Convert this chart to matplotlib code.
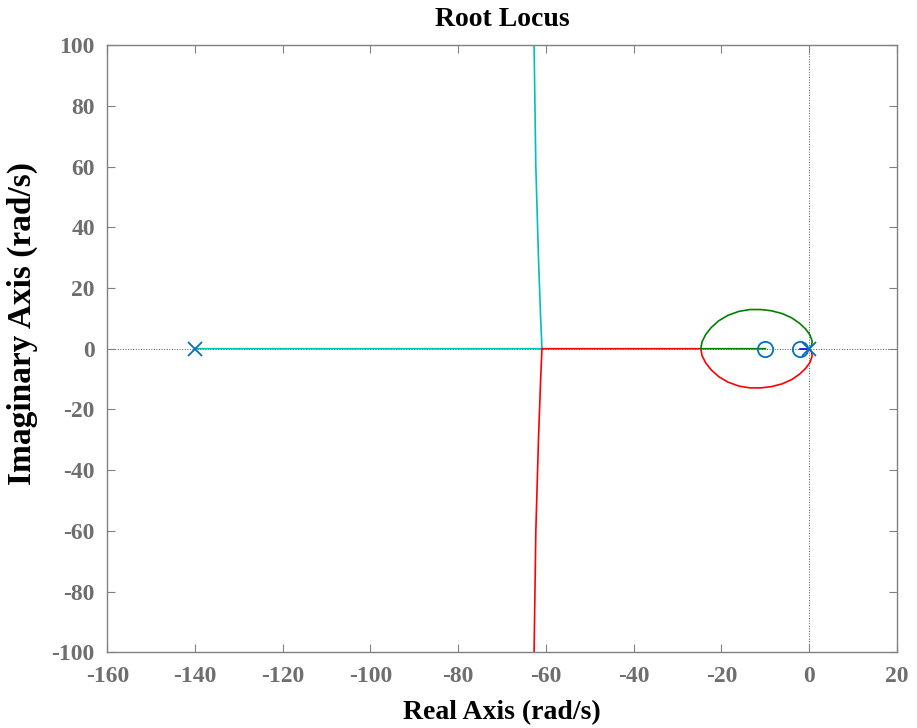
import numpy as np
import matplotlib.pyplot as plt

plt.rcParams['font.family'] = ['Liberation Serif', 'DejaVu Serif']
plt.rcParams['font.weight'] = 'bold'
plt.rcParams['axes.unicode_minus'] = False

# poles / zeros
poles_re = [-140, 0]
poles_im = [0, 0]
zeros_re = [-10, -2]
zeros_im = [0, 0]

# branch 1 (blue): origin -> zero at -2
b1_re = [0, -2]
b1_im = [0, 0]

# branch 2 (green): origin -> upper arc -> break-in -> zero at -10
b2_re = [0, 0.6, 0.7, 0.2, -0.8, -2.2, -4.0, -6.2, -8.6, -11.0, -13.5, -16.0,
         -18.5, -20.6, -22.3, -23.6, -24.4, -24.7, -10]
b2_im = [0, 1.2, 2.5, 4.5, 6.5, 8.4, 10.2, 11.6, 12.5, 12.9, 12.9, 12.3,
         11.0, 9.2, 7.0, 4.6, 2.3, 0, 0]

# branch 3 (red): origin -> lower arc -> break-in -> breakaway -> down
b3_re = [0, 0.6, 0.7, 0.2, -0.8, -2.2, -4.0, -6.2, -8.6, -11.0, -13.5, -16.0,
         -18.5, -20.6, -22.3, -23.6, -24.4, -24.7, -60.9, -61.2, -61.7, -62.3, -62.7]
b3_im = [0, -1.2, -2.5, -4.5, -6.5, -8.4, -10.2, -11.6, -12.5, -12.9, -12.9, -12.3,
         -11.0, -9.2, -7.0, -4.6, -2.3, 0, 0, -10, -30, -60, -100]

# branch 4 (cyan): pole at -140 -> breakaway -> up
b4_re = [-140, -60.9, -61.2, -61.7, -62.3, -62.7]
b4_im = [0, 0, 10, 30, 60, 100]

fig, ax = plt.subplots(figsize=(9.17, 7.28), dpi=100)
fig.subplots_adjust(left=0.117, right=0.978, top=0.938, bottom=0.104)

ax.axhline(0, color='#555555', ls=':', lw=0.7, zorder=1)
ax.axvline(0, color='#555555', ls=':', lw=0.7, zorder=1)

lw = 1.2
ax.plot(b4_re, b4_im, color='#00BFBF', lw=lw, zorder=2)
ax.plot(b3_re, b3_im, color='#FF0000', lw=lw, zorder=2)
ax.plot(b2_re, b2_im, color='#008000', lw=lw, zorder=2)
ax.plot(b1_re, b1_im, color='#0000FF', lw=lw, zorder=3)

ax.plot(poles_re, poles_im, 'x', color='#0072BD', ms=10, mew=1.3, zorder=4)
ax.plot(zeros_re, zeros_im, 'o', mfc='none', mec='#0072BD', ms=11, mew=1.3, zorder=4)

ax.set_xlim(-160, 20)
ax.set_ylim(-100, 100)
ax.set_xticks(np.arange(-160, 21, 20))
ax.set_yticks(np.arange(-100, 101, 20))

ax.tick_params(direction='in', length=6, width=0.8, top=True, right=True,
               colors='#808080', labelcolor='#6e6e6e', labelsize=17)
ax.tick_params(axis='x', pad=10)
ax.tick_params(axis='y', pad=9)
for lab in ax.get_xticklabels() + ax.get_yticklabels():
    lab.set_fontweight('bold')
for sp in ax.spines.values():
    sp.set_color('#808080')
    sp.set_linewidth(1.0)

ax.set_xlabel('Real Axis (rad/s)', fontsize=20, fontweight='bold', labelpad=9)
ax.set_ylabel('Imaginary Axis (rad/s)', fontsize=24, fontweight='bold')
ax.yaxis.set_label_coords(-0.088, 0.542)
ax.set_title('Root Locus', fontsize=20, fontweight='bold', pad=14)

plt.savefig('out.png', dpi=100)
